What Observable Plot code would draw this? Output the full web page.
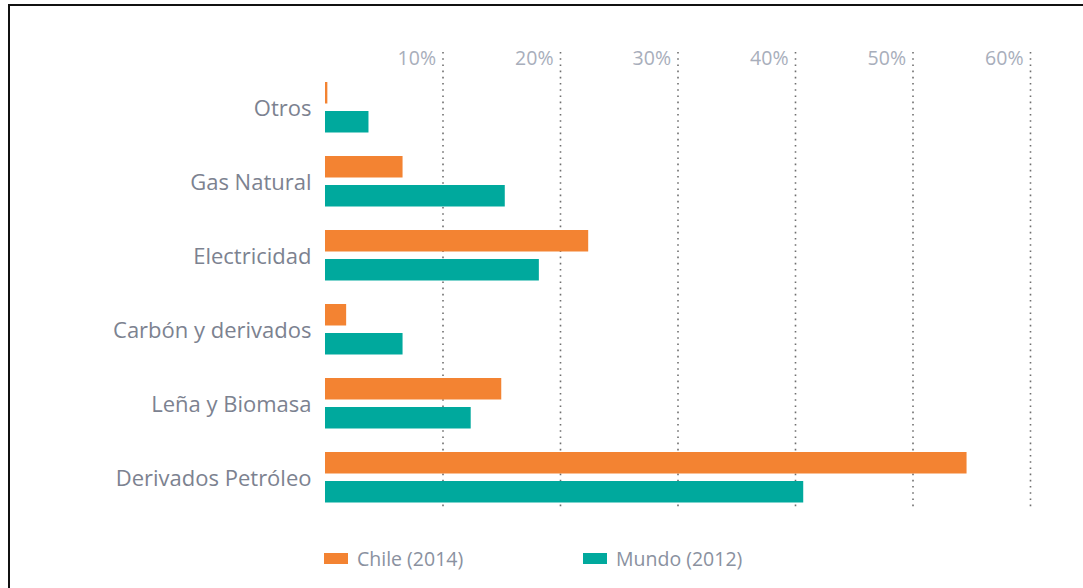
<!DOCTYPE html>
<html>
<head>
<meta charset="utf-8">
<script src="https://cdn.jsdelivr.net/npm/d3@7"></script>
<script src="https://cdn.jsdelivr.net/npm/@observablehq/plot@0.6"></script>
<style>
  html, body { margin: 0; padding: 0; background: #fff; }
  #wrap { position: relative; width: 1083px; height: 588px; overflow: hidden; font-family: "Open Sans", sans-serif; }
  #frame { position: absolute; left: 8px; top: 4px; width: 1200px; height: 700px; border-top: 2.5px solid #111; border-left: 2.5px solid #111; }
  #chart { position: absolute; left: 0; top: 0; }
  #legend { position: absolute; left: 0; top: 545px; width: 1083px; height: 26px; }
  .item { position: absolute; top: 0; display: flex; align-items: center; height: 26px; color: #8a91a0; font-size: 19.5px; }
  .sw { width: 24px; height: 11px; margin-right: 9px; }
</style>
</head>
<body>
<div id="wrap">
  <div id="frame"></div>
  <div id="chart"></div>
  <div id="legend"></div>
</div>
<script>
const categories = ["Otros", "Gas Natural", "Electricidad", "Carbón y derivados", "Leña y Biomasa", "Derivados Petróleo"];
const chile = [0.2, 6.6, 22.4, 1.8, 15.0, 54.6];
const mundo = [3.7, 15.3, 18.2, 6.6, 12.4, 40.7];
const series = ["Chile (2014)", "Mundo (2012)"];
const colors = ["#F38332", "#00A99D"];
const xTicks = [10, 20, 30, 40, 50, 60];

const chileData = categories.map((c, i) => ({category: c, value: chile[i], series: series[0]}));
const mundoData = categories.map((c, i) => ({category: c, value: mundo[i], series: series[1]}));

const plot = Plot.plot({
  width: 1083,
  height: 540,
  marginLeft: 325,
  marginRight: 53,
  marginTop: 52,
  marginBottom: 31,
  style: {fontFamily: "'Open Sans', sans-serif", background: "transparent", overflow: "visible"},
  x: {domain: [0, 60], axis: null, label: null},
  y: {type: "band", domain: categories, range: [69, 516], padding: 0, axis: null, label: null},
  marks: [
    Plot.gridX(xTicks, {stroke: "#6f6f6f", strokeOpacity: 1, strokeWidth: 1.6, strokeDasharray: "1.6,4.6"}),
    Plot.axisX(xTicks, {anchor: "top", label: null, tickSize: 0, tickFormat: d => d + "%", textAnchor: "end", dx: -7, dy: 21, fontSize: 19.5, fill: "#a8aebb"}),
    Plot.axisY({anchor: "left", label: null, tickSize: 0, tickPadding: 14, fontSize: 22, fill: "#7c8290"}),
    Plot.barX(chileData, {x: "value", y: "category", fill: colors[0], insetTop: 11, insetBottom: 41.5}),
    Plot.barX(mundoData, {x: "value", y: "category", fill: colors[1], insetTop: 40, insetBottom: 12.5})
  ]
});
document.getElementById("chart").appendChild(plot);

const legend = document.getElementById("legend");
const legendX = [324, 583];
series.forEach((s, i) => {
  const item = document.createElement("div");
  item.className = "item";
  item.style.left = legendX[i] + "px";
  const sw = document.createElement("span");
  sw.className = "sw";
  sw.style.background = colors[i];
  const t = document.createElement("span");
  t.textContent = s;
  item.appendChild(sw);
  item.appendChild(t);
  legend.appendChild(item);
});
</script>
</body>
</html>
